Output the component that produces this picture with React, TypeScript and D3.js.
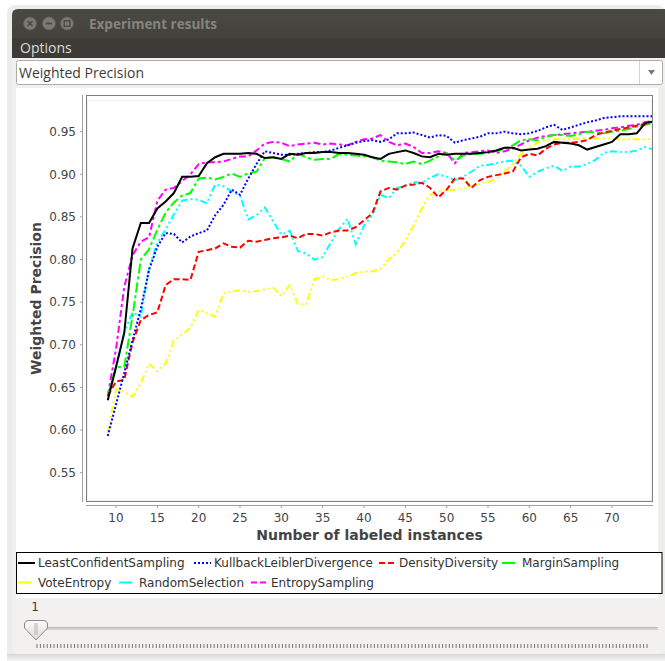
import React from 'react';
import * as d3 from 'd3';

// ---------- data ----------
const instances = [
  9, 10, 11, 12, 13, 14, 15, 16, 17, 18,
  19, 20, 21, 22, 23, 24, 25, 26, 27, 28,
  29, 30, 31, 32, 33, 34, 35, 36, 37, 38,
  39, 40, 41, 42, 43, 44, 45, 46, 47, 48,
  49, 50, 51, 52, 53, 54, 55, 56, 57, 58,
  59, 60, 61, 62, 63, 64, 65, 66, 67, 68,
  69, 70, 71, 72, 73, 74, 75,
];

const leastConfidentSampling = [
  0.635, 0.674, 0.714, 0.813, 0.843, 0.843, 0.860, 0.868, 0.878, 0.897,
  0.897, 0.898, 0.913, 0.920, 0.924, 0.924, 0.924, 0.925, 0.924, 0.919,
  0.920, 0.918, 0.924, 0.923, 0.925, 0.925, 0.926, 0.926, 0.925, 0.925,
  0.924, 0.923, 0.920, 0.918, 0.924, 0.926, 0.928, 0.925, 0.921, 0.920,
  0.924, 0.923, 0.924, 0.924, 0.924, 0.925, 0.926, 0.928, 0.931, 0.931,
  0.928, 0.929, 0.930, 0.933, 0.938, 0.937, 0.936, 0.934, 0.929, 0.932,
  0.935, 0.938, 0.947, 0.947, 0.948, 0.960, 0.962,
];

const kullbackLeiblerDivergence = [
  0.593, 0.630, 0.667, 0.705, 0.742, 0.788, 0.815, 0.831, 0.830, 0.820,
  0.827, 0.831, 0.834, 0.852, 0.864, 0.882, 0.876, 0.895, 0.912, 0.927,
  0.925, 0.923, 0.923, 0.924, 0.925, 0.926, 0.926, 0.928, 0.931, 0.934,
  0.937, 0.939, 0.940, 0.938, 0.941, 0.948, 0.948, 0.949, 0.946, 0.943,
  0.946, 0.945, 0.937, 0.940, 0.942, 0.944, 0.948, 0.948, 0.950, 0.948,
  0.947, 0.948, 0.951, 0.955, 0.958, 0.952, 0.955, 0.958, 0.961, 0.963,
  0.966, 0.967, 0.968, 0.968, 0.968, 0.968, 0.968,
];

const densityDiversity = [
  0.640, 0.657, 0.659, 0.703, 0.729, 0.735, 0.738, 0.770, 0.777, 0.777,
  0.776, 0.809, 0.811, 0.813, 0.819, 0.815, 0.814, 0.822, 0.821, 0.823,
  0.825, 0.826, 0.828, 0.825, 0.830, 0.830, 0.828, 0.832, 0.834, 0.834,
  0.838, 0.846, 0.854, 0.880, 0.884, 0.882, 0.887, 0.888, 0.890, 0.884,
  0.873, 0.882, 0.895, 0.895, 0.884, 0.893, 0.897, 0.899, 0.901, 0.903,
  0.920, 0.924, 0.922, 0.930, 0.935, 0.937, 0.937, 0.938, 0.940, 0.946,
  0.949, 0.951, 0.953, 0.955, 0.957, 0.959, 0.962,
];

const marginSampling = [
  0.640, 0.674, 0.674, 0.734, 0.800, 0.812, 0.835, 0.855, 0.867, 0.875,
  0.878, 0.895, 0.896, 0.894, 0.897, 0.901, 0.897, 0.901, 0.903, 0.919,
  0.920, 0.918, 0.915, 0.924, 0.920, 0.917, 0.918, 0.918, 0.924, 0.923,
  0.922, 0.921, 0.920, 0.916, 0.915, 0.914, 0.912, 0.915, 0.912, 0.916,
  0.921, 0.925, 0.916, 0.922, 0.924, 0.924, 0.925, 0.927, 0.930, 0.934,
  0.940, 0.941, 0.940, 0.944, 0.946, 0.946, 0.945, 0.947, 0.950, 0.949,
  0.948, 0.950, 0.951, 0.953, 0.956, 0.958, 0.960,
];

const voteEntropy = [
  0.597, 0.648, 0.645, 0.639, 0.655, 0.678, 0.669, 0.678, 0.705, 0.712,
  0.720, 0.741, 0.737, 0.733, 0.760, 0.763, 0.764, 0.762, 0.763, 0.765,
  0.767, 0.757, 0.770, 0.748, 0.747, 0.777, 0.780, 0.776, 0.777, 0.780,
  0.784, 0.786, 0.786, 0.789, 0.800, 0.808, 0.822, 0.840, 0.860, 0.876,
  0.880, 0.881, 0.882, 0.884, 0.886, 0.889, 0.891, 0.895, 0.903, 0.912,
  0.924, 0.932, 0.937, 0.940, 0.941, 0.941, 0.941, 0.942, 0.942, 0.942,
  0.942, 0.942, 0.941, 0.941, 0.941, 0.941, 0.941,
];

const randomSelection = [
  0.640, 0.672, 0.715, 0.738, 0.733, 0.790, 0.820, 0.835, 0.853, 0.869,
  0.871, 0.870, 0.866, 0.888, 0.886, 0.880, 0.875, 0.847, 0.852, 0.861,
  0.845, 0.829, 0.834, 0.810, 0.807, 0.800, 0.803, 0.820, 0.836, 0.848,
  0.818, 0.840, 0.852, 0.876, 0.872, 0.884, 0.886, 0.891, 0.890, 0.896,
  0.900, 0.897, 0.893, 0.897, 0.903, 0.910, 0.911, 0.913, 0.915, 0.916,
  0.910, 0.897, 0.903, 0.907, 0.910, 0.904, 0.909, 0.909, 0.912, 0.917,
  0.925, 0.927, 0.926, 0.926, 0.928, 0.932, 0.929,
];

const entropySampling = [
  0.640, 0.695, 0.768, 0.805, 0.821, 0.826, 0.869, 0.882, 0.884, 0.892,
  0.900, 0.912, 0.914, 0.914, 0.915, 0.918, 0.921, 0.921, 0.928, 0.936,
  0.938, 0.937, 0.933, 0.935, 0.936, 0.937, 0.935, 0.936, 0.935, 0.934,
  0.938, 0.941, 0.942, 0.946, 0.938, 0.934, 0.936, 0.932, 0.925, 0.925,
  0.927, 0.925, 0.913, 0.925, 0.926, 0.927, 0.928, 0.925, 0.927, 0.930,
  0.935, 0.940, 0.943, 0.945, 0.946, 0.947, 0.948, 0.949, 0.950, 0.951,
  0.952, 0.954, 0.955, 0.957, 0.958, 0.961, 0.963,
];

const seriesNames = [
  'LeastConfidentSampling',
  'KullbackLeiblerDivergence',
  'DensityDiversity',
  'MarginSampling',
  'VoteEntropy',
  'RandomSelection',
  'EntropySampling',
];
const seriesValues = [
  leastConfidentSampling,
  kullbackLeiblerDivergence,
  densityDiversity,
  marginSampling,
  voteEntropy,
  randomSelection,
  entropySampling,
];

const yTicks = [0.55, 0.6, 0.65, 0.7, 0.75, 0.8, 0.85, 0.9, 0.95];
const xTicks = [10, 15, 20, 25, 30, 35, 40, 45, 50, 55, 60, 65, 70];

const windowTitle = 'Experiment results';
const menuLabel = 'Options';
const comboLabel = 'Weighted Precision';
const xAxisLabel = 'Number of labeled instances';
const yAxisLabel = 'Weighted Precision';
const sliderValue = '1';
const sliderTickCount = 180;

// ---------- styles ----------
const seriesStyles = [
  { color: '#000000', dash: null, legendDash: null },
  { color: '#0000ff', dash: '2,2', legendDash: '2,2' },
  { color: '#ff0000', dash: '6,3', legendDash: '6,3' },
  { color: '#00ff00', dash: '10,3,3,3', legendDash: '13,10' },
  { color: '#ffff00', dash: '7,3,2,3,2,3', legendDash: '13,10' },
  { color: '#00ffff', dash: '7,3,2,3,2,3', legendDash: '13,10' },
  { color: '#ff00ff', dash: '7,3,3,3', legendDash: '6,3' },
];

// legend layout: [row, textX]
const legendLayout = [
  [0, 38],
  [0, 214],
  [0, 399],
  [0, 522],
  [1, 38],
  [1, 139],
  [1, 271],
];

const W = 665;
const H = 661;
const PL = 86;
const PR = 653;
const PT = 95;
const PB = 502;

const CHART_FONT = '"DejaVu Sans", Verdana, sans-serif';
const UI_FONT = '"Open Sans", "DejaVu Sans", sans-serif';

export default function App() {
  const x = d3.scaleLinear().domain([6.37, 74.96]).range([PL, PR]);
  const y = d3.scaleLinear().domain([0.5156, 0.993]).range([PB, PT]);

  const line = d3
    .line<number>()
    .x((_, i) => x(instances[i]))
    .y((d) => y(d));

  const sliderX = d3.scaleLinear().domain([0, sliderTickCount - 1]).range([37, 647]);
  const sliderTicks = d3.range(sliderTickCount);

  const order = d3.range(seriesValues.length).reverse();

  return (
    <svg
      width={W}
      height={H}
      viewBox={`0 0 ${W} ${H}`}
      style={{ position: 'absolute', left: 0, top: 0, display: 'block' }}
    >
      <defs>
        <clipPath id="plotClip">
          <rect x={PL} y={PT} width={PR - PL} height={PB - PT} />
        </clipPath>
        <linearGradient id="titleGrad" x1="0" y1="0" x2="0" y2="1">
          <stop offset="0" stopColor="#4a4944" />
          <stop offset="1" stopColor="#3c3b37" />
        </linearGradient>
        <linearGradient id="thumbGrad" x1="0" y1="0" x2="0" y2="1">
          <stop offset="0" stopColor="#fbfbfa" />
          <stop offset="1" stopColor="#dcdad5" />
        </linearGradient>
        <linearGradient id="shadowGrad" x1="0" y1="0" x2="0" y2="1">
          <stop offset="0" stopColor="#d8d8d8" />
          <stop offset="1" stopColor="#f4f4f4" />
        </linearGradient>
      </defs>

      {/* page background */}
      <rect x={0} y={0} width={W} height={H} fill="#ffffff" />
      {/* window shadow */}
      <rect x={7} y={5} width={W - 7} height={H - 5} rx={8} fill="#ececec" />
      {/* window body */}
      <rect x={12} y={9} width={W - 12} height={645} rx={6} fill="#f2f1f0" />
      {/* title bar + menu bar */}
      <path
        d={`M12,38 L12,15 Q12,9 18,9 L${W},9 L${W},58 L12,58 Z`}
        fill="url(#titleGrad)"
      />
      <rect x={12} y={38} width={W - 12} height={20} fill="#3c3b37" />
      {/* title buttons */}
      {[
        { cx: 30, glyph: 'x' },
        { cx: 49, glyph: '-' },
        { cx: 67, glyph: 'o' },
      ].map((b, i) => (
        <g key={i}>
          <circle cx={b.cx} cy={23.5} r={6.5} fill="#7a7974" stroke="#5e5d59" strokeWidth={0.8} />
          {b.glyph === 'x' && (
            <path
              d={`M${b.cx - 2.5},21 L${b.cx + 2.5},26 M${b.cx + 2.5},21 L${b.cx - 2.5},26`}
              stroke="#4a4945"
              strokeWidth={1.6}
            />
          )}
          {b.glyph === '-' && (
            <path d={`M${b.cx - 3},23.5 L${b.cx + 3},23.5`} stroke="#4a4945" strokeWidth={1.8} />
          )}
          {b.glyph === 'o' && (
            <rect x={b.cx - 2.8} y={20.7} width={5.6} height={5.6} fill="none" stroke="#4a4945" strokeWidth={1.4} />
          )}
        </g>
      ))}
      <text
        x={89}
        y={28.5}
        fontFamily={UI_FONT}
        fontWeight="bold"
        fontSize={13.5}
        fill="#85847e"
      >
        {windowTitle}
      </text>
      <text x={20} y={52.5} fontFamily={UI_FONT} fontSize={14} fill="#dfdbd2">
        {menuLabel}
      </text>

      {/* combo box */}
      <rect x={16.5} y={60.5} width={646} height={24} rx={2} fill="#ffffff" stroke="#aeaca6" />
      <line x1={639.5} y1={61} x2={639.5} y2={84} stroke="#d6d4cf" />
      <path d="M648,70 L655,70 L651.5,75 Z" fill="#7a7a7a" />
      <text x={19} y={77.5} fontFamily={UI_FONT} fontSize={14} fill="#3c3c3c">
        {comboLabel}
      </text>

      {/* chart panel */}
      <rect x={16} y={88} width={642} height={510} fill="#ffffff" />
      {/* right gray strip */}
      <rect x={659} y={88} width={W - 659} height={510} fill="#eeeeec" />

      {/* plot area */}
      <rect x={PL} y={PT} width={PR - PL} height={PB - PT} fill="#ffffff" />
      <rect
        x={PL + 1.5}
        y={PT + 5.5}
        width={PR - PL - 3}
        height={PB - PT - 7}
        fill="none"
        stroke="#f1f1f1"
        strokeWidth={1}
      />

      {/* series */}
      <g clipPath="url(#plotClip)">
        {order.map((si) => (
          <path
            key={seriesNames[si]}
            d={line(seriesValues[si]) || ''}
            fill="none"
            stroke={seriesStyles[si].color}
            strokeWidth={2}
            strokeDasharray={seriesStyles[si].dash || undefined}
            strokeLinejoin="miter"
          />
        ))}
      </g>

      {/* plot outline */}
      <rect
        x={PL + 0.5}
        y={PT + 0.5}
        width={PR - PL - 1}
        height={PB - PT - 1}
        fill="none"
        stroke="#808080"
        strokeWidth={1}
      />

      {/* y axis */}
      <line x1={82.5} y1={PT} x2={82.5} y2={PB} stroke="#a0a0a0" />
      {yTicks.map((t) => (
        <g key={t}>
          <line x1={80} y1={y(t)} x2={82.5} y2={y(t)} stroke="#a0a0a0" />
          <text
            x={76}
            y={y(t)}
            dy="0.36em"
            textAnchor="end"
            fontFamily={CHART_FONT}
            fontSize={12}
            fill="#444444"
          >
            {d3.format('.2f')(t)}
          </text>
        </g>
      ))}
      <text
        transform={`translate(40.5,${(PT + PB) / 2}) rotate(-90)`}
        textAnchor="middle"
        fontFamily={CHART_FONT}
        fontWeight="bold"
        fontSize={14}
        fill="#444444"
      >
        {yAxisLabel}
      </text>

      {/* x axis */}
      <line x1={PL} y1={505.5} x2={PR} y2={505.5} stroke="#a0a0a0" />
      {xTicks.map((t) => (
        <g key={t}>
          <line x1={x(t)} y1={505.5} x2={x(t)} y2={508} stroke="#a0a0a0" />
          <text
            x={x(t)}
            y={522}
            textAnchor="middle"
            fontFamily={CHART_FONT}
            fontSize={12}
            fill="#444444"
          >
            {t}
          </text>
        </g>
      ))}
      <text
        x={(PL + PR) / 2}
        y={540}
        textAnchor="middle"
        fontFamily={CHART_FONT}
        fontWeight="bold"
        fontSize={14}
        fill="#444444"
      >
        {xAxisLabel}
      </text>

      {/* legend */}
      <rect x={16.5} y={552.5} width={645.5} height={41} fill="#ffffff" stroke="#000000" strokeWidth={1} />
      {seriesNames.map((name, i) => {
        const [row, tx] = legendLayout[i];
        const cy = 563 + row * 19.5;
        const st = seriesStyles[i];
        return (
          <g key={name}>
            <line
              x1={tx - 20}
              y1={cy}
              x2={tx - 3}
              y2={cy}
              stroke={st.color}
              strokeWidth={2}
              strokeDasharray={st.legendDash || undefined}
            />
            <text
              x={tx}
              y={cy}
              dy="0.36em"
              fontFamily={CHART_FONT}
              fontSize={12}
              fill="#333333"
            >
              {name}
            </text>
          </g>
        );
      })}

      {/* slider */}
      <text x={35} y={611} textAnchor="middle" fontFamily={CHART_FONT} fontSize={12} fill="#3c3c3c">
        {sliderValue}
      </text>
      <rect x={40} y={627} width={618} height={3} rx={1.5} fill="#d4d2cd" />
      <line x1={40} y1={627.5} x2={658} y2={627.5} stroke="#bcbab5" />
      <path
        d="M24.5,625 Q24.5,620.5 29,620.5 L43,620.5 Q47.5,620.5 47.5,625 L47.5,628 L36,640 L24.5,628 Z"
        fill="url(#thumbGrad)"
        stroke="#8c8a85"
        strokeWidth={1}
      />
      <line x1={35} y1={623} x2={35} y2={635} stroke="#b5b3ae" />
      <line x1={37} y1={623} x2={37} y2={635} stroke="#b5b3ae" />
      {sliderTicks.map((i) => (
        <line
          key={i}
          x1={sliderX(i)}
          y1={644}
          x2={sliderX(i)}
          y2={648}
          stroke="#555555"
          strokeWidth={0.8}
        />
      ))}

      {/* bottom shadow */}
      <rect x={7} y={654} width={W - 7} height={H - 654} fill="url(#shadowGrad)" />
    </svg>
  );
}
